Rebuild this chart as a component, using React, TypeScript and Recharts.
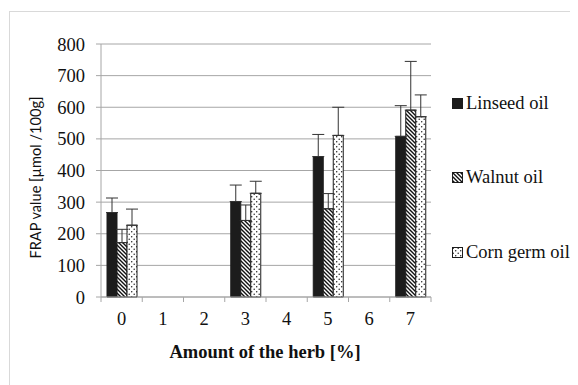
import { Bar, BarChart, CartesianGrid, ErrorBar, XAxis, YAxis } from "recharts"

const categories = ["0", "1", "2", "3", "4", "5", "6", "7"]
const linseed = [267, null, null, 302, null, 444, null, 508]
const linseedErr = [46, null, null, 52, null, 70, null, 97]
const walnut = [172, null, null, 242, null, 279, null, 591]
const walnutErr = [42, null, null, 49, null, 48, null, 154]
const corn = [227, null, null, 328, null, 511, null, 570]
const cornErr = [51, null, null, 38, null, 89, null, 69]
const yTicks = [0, 100, 200, 300, 400, 500, 600, 700, 800]

// error bars only point upwards
const up = (v: number | null) => (v == null ? null : [0, v])

const data = categories.map((c, i) => ({
  cat: c,
  linseed: linseed[i],
  linseedErr: up(linseedErr[i]),
  walnut: walnut[i],
  walnutErr: up(walnutErr[i]),
  corn: corn[i],
  cornErr: up(cornErr[i]),
}))

const series = [
  { key: "linseed", name: "Linseed oil", fill: "#1c1c1c" },
  { key: "walnut", name: "Walnut oil", fill: "url(#hatch)" },
  { key: "corn", name: "Corn germ oil", fill: "url(#dots)" },
]

const serif = "Times New Roman"
const gray = "#a6a6a6"
const plotWidth = 330
const band = plotWidth / categories.length

function XTick(props: any) {
  const { x, y, payload, index } = props
  const left = x - band / 2
  return (
    <g>
      <line x1={left} y1={y - 8} x2={left} y2={y - 3} stroke={gray} />
      {index === categories.length - 1 && (
        <line x1={x + band / 2} y1={y - 8} x2={x + band / 2} y2={y - 3} stroke={gray} />
      )}
      <text x={x} y={y + 20} textAnchor="middle" style={{ fontFamily: serif }} fontSize={18.5} fill="#111">
        {payload.value}
      </text>
    </g>
  )
}

export default function App() {
  return (
    <div style={{ position: "relative", width: 570, height: 377 }}>
      <svg width={0} height={0} style={{ position: "absolute" }}>
        <defs>
          <pattern id="hatch" width={4} height={4} patternUnits="userSpaceOnUse">
            <rect width={4} height={4} fill="#fff" />
            <path d="M0,0 L4,4 M-1,3 L1,5 M3,-1 L5,1" stroke="#111" strokeWidth={1.4} />
          </pattern>
          <pattern id="dots" width={5} height={5} patternUnits="userSpaceOnUse">
            <rect width={5} height={5} fill="#fff" />
            <circle cx={1.2} cy={1.2} r={0.75} fill="#222" />
            <circle cx={3.7} cy={3.7} r={0.75} fill="#222" />
          </pattern>
        </defs>
      </svg>
      <div
        style={{
          position: "absolute",
          left: 1,
          top: 3,
          width: 569,
          height: 374,
          borderLeft: "1.5px solid #d9d9d9",
          borderTop: "1.5px solid #d9d9d9",
        }}
      />
      <BarChart
        width={570}
        height={370}
        data={data}
        barSize={10}
        barGap={0}
        margin={{ top: 36, right: 147, left: 0, bottom: 51 }}
        style={{ position: "absolute", left: 0, top: 0 }}
      >
        <CartesianGrid stroke={gray} vertical={false} />
        <XAxis
          dataKey="cat"
          height={30}
          stroke={gray}
          tickLine={false}
          tick={<XTick />}
          interval={0}
          label={{
            content: (p: any) => (
              <text
                x={p.viewBox.x + p.viewBox.width / 2 - 1}
                y={p.viewBox.y + 61}
                textAnchor="middle"
                style={{ fontFamily: serif }}
                fontWeight="bold"
                fontSize={18.5}
                fill="#111"
              >
                Amount of the herb [%]
              </text>
            ),
          }}
        />
        <YAxis
          width={93}
          domain={[0, 800]}
          ticks={yTicks}
          stroke={gray}
          tickSize={5}
          tickMargin={11}
          tick={{ fontSize: 18.5, fill: "#111", style: { fontFamily: serif } }}
          label={{
            content: (p: any) => {
              const cx = p.viewBox.x + 27
              const cy = p.viewBox.y + p.viewBox.height / 2 + 7
              return (
                <text
                  x={cx}
                  y={cy}
                  transform={`rotate(-90 ${cx} ${cy})`}
                  textAnchor="middle"
                  dominantBaseline="central"
                  style={{ fontFamily: "Lato" }}
                  fontSize={14.6}
                  fill="#111"
                >
                  FRAP value [µmol /100g]
                </text>
              )
            },
          }}
        />
        {series.map((s) => (
          <Bar
            key={s.key}
            dataKey={s.key}
            name={s.name}
            fill={s.fill}
            stroke="#1c1c1c"
            strokeWidth={1}
            isAnimationActive={false}
          >
            <ErrorBar dataKey={`${s.key}Err`} width={6} stroke="#333" strokeWidth={1} direction="y" />
          </Bar>
        ))}
      </BarChart>
      <div
        style={{
          position: "absolute",
          left: 444,
          top: 58,
          width: 130,
          fontFamily: serif,
          fontSize: 18.5,
          color: "#111",
        }}
      >
        {series.map((s) => (
          <div key={s.key} style={{ display: "flex", alignItems: "center", height: 74.5 }}>
            <svg width={11} height={11} style={{ marginRight: 3 }}>
              <rect x={0.5} y={0.5} width={10} height={10} fill={s.fill} stroke="#1c1c1c" />
            </svg>
            <span>{s.name}</span>
          </div>
        ))}
      </div>
    </div>
  )
}
